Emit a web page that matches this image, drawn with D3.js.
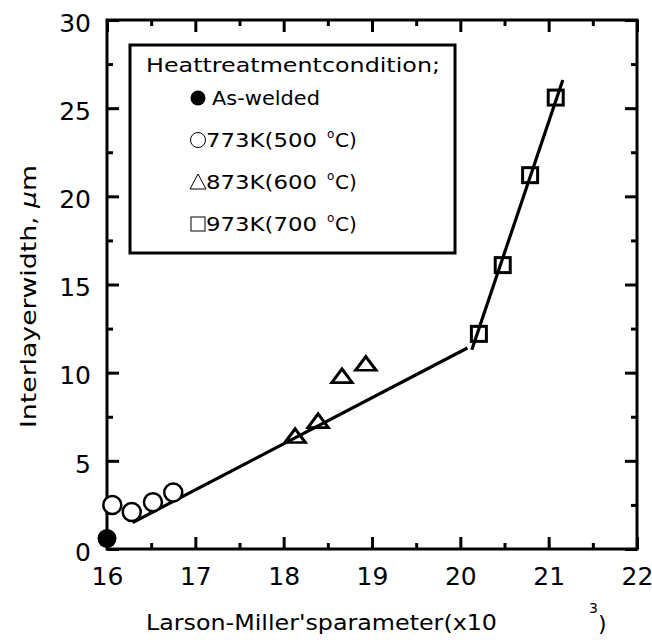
<!DOCTYPE html>
<html>
<head>
<meta charset="utf-8">
<script src="https://cdn.jsdelivr.net/npm/d3@7"></script>
<style>
  body { margin: 0; background: #fff; }
  text { font-family: "DejaVu Sans", sans-serif; fill: #000; }
</style>
</head>
<body>
<svg id="chart" width="652" height="640"></svg>
<script>
// data
var asWeldedX = [16.0], asWeldedY = [0.6];
var k773X = [16.06, 16.28, 16.52, 16.75], k773Y = [2.5, 2.1, 2.65, 3.2];
var k873X = [18.13, 18.39, 18.66, 18.93], k873Y = [6.35, 7.2, 9.75, 10.45];
var k973X = [20.21, 20.48, 20.79, 21.08], k973Y = [12.2, 16.1, 21.2, 25.6];
// two fitted straight lines
var fitLowX = [16.29, 20.08], fitLowY = [1.5, 11.4];
var fitHighX = [20.13, 21.16], fitHighY = [11.3, 26.6];

var xTicks = [16, 17, 18, 19, 20, 21, 22];
var xMinor = [16.5, 17.5, 18.5, 19.5, 20.5, 21.5];
var yTicks = [0, 5, 10, 15, 20, 25, 30];
var yMinor = [2.5, 7.5, 12.5, 17.5, 22.5, 27.5];

var legendTitle = "Heattreatmentcondition;";
var legendItems = [
  {label: "As-welded", sym: "filled"},
  {label: "773K(500", sym: "circle", deg: true},
  {label: "873K(600", sym: "triangle", deg: true},
  {label: "973K(700", sym: "square", deg: true}
];

var svg = d3.select("#chart");
var pL = 107, pR = 637, pT = 20, pB = 549;

var x = d3.scaleLinear().domain([16, 22]).range([pL, pR]);
var y = d3.scaleLinear().domain([0, 30]).range([pB, pT]);

function styleAxis(g) {
  g.select(".domain").remove();
  g.selectAll("line").attr("stroke", "#000").attr("stroke-width", 3);
}

// major ticks with labels
svg.append("g").attr("transform", "translate(0," + pB + ")")
  .call(d3.axisBottom(x).tickValues(xTicks).tickFormat(d3.format("d")).tickSize(-12).tickPadding(18))
  .call(styleAxis)
  .selectAll("text").style("font-size", "25px").attr("fill", "#000");
svg.append("g").attr("transform", "translate(" + pL + ",0)")
  .call(d3.axisLeft(y).tickValues(yTicks).tickFormat(d3.format("d")).tickSize(-12).tickPadding(16))
  .call(styleAxis)
  .selectAll("text").style("font-size", "25px").attr("fill", "#000").attr("dy", "0.45em");
// top and right: ticks only
svg.append("g").attr("transform", "translate(0," + pT + ")")
  .call(d3.axisTop(x).tickValues(xTicks).tickFormat("").tickSize(-12))
  .call(styleAxis);
svg.append("g").attr("transform", "translate(" + pR + ",0)")
  .call(d3.axisRight(y).tickValues(yTicks).tickFormat("").tickSize(-12))
  .call(styleAxis);
// minor ticks
svg.append("g").attr("transform", "translate(0," + pB + ")")
  .call(d3.axisBottom(x).tickValues(xMinor).tickFormat("").tickSize(-6)).call(styleAxis);
svg.append("g").attr("transform", "translate(0," + pT + ")")
  .call(d3.axisTop(x).tickValues(xMinor).tickFormat("").tickSize(-6)).call(styleAxis);
svg.append("g").attr("transform", "translate(" + pL + ",0)")
  .call(d3.axisLeft(y).tickValues(yMinor).tickFormat("").tickSize(-6)).call(styleAxis);
svg.append("g").attr("transform", "translate(" + pR + ",0)")
  .call(d3.axisRight(y).tickValues(yMinor).tickFormat("").tickSize(-6)).call(styleAxis);

// frame
svg.append("rect").attr("x", pL).attr("y", pT)
  .attr("width", pR - pL).attr("height", pB - pT)
  .attr("fill", "none").attr("stroke", "#000").attr("stroke-width", 3);

// fit lines
var line = d3.line().x(function(d) { return x(d[0]); }).y(function(d) { return y(d[1]); });
[[fitLowX, fitLowY], [fitHighX, fitHighY]].forEach(function(f) {
  svg.append("path")
    .attr("d", line(d3.zip(f[0], f[1])))
    .attr("fill", "none").attr("stroke", "#000").attr("stroke-width", 3.2);
});

// markers
var tri = d3.symbol().type(d3.symbolTriangle).size(150);
svg.selectAll(".c773").data(d3.zip(k773X, k773Y)).enter().append("circle")
  .attr("cx", function(d) { return x(d[0]); }).attr("cy", function(d) { return y(d[1]); })
  .attr("r", 9).attr("fill", "#fff").attr("stroke", "#000").attr("stroke-width", 2.5);
svg.selectAll(".t873").data(d3.zip(k873X, k873Y)).enter().append("path")
  .attr("d", tri)
  .attr("transform", function(d) { return "translate(" + x(d[0]) + "," + (y(d[1]) + 1) + ") scale(1.1,0.85)"; })
  .attr("fill", "none").attr("stroke", "#000").attr("stroke-width", 3);
svg.selectAll(".s973").data(d3.zip(k973X, k973Y)).enter().append("rect")
  .attr("x", function(d) { return x(d[0]) - 7.5; }).attr("y", function(d) { return y(d[1]) - 7.5; })
  .attr("width", 15).attr("height", 15)
  .attr("fill", "none").attr("stroke", "#000").attr("stroke-width", 3);
svg.selectAll(".aw").data(d3.zip(asWeldedX, asWeldedY)).enter().append("circle")
  .attr("cx", function(d) { return x(d[0]); }).attr("cy", function(d) { return y(d[1]); })
  .attr("r", 9.5).attr("fill", "#000");

// legend
var lg = svg.append("g");
lg.append("rect").attr("x", 130).attr("y", 45).attr("width", 325).attr("height", 208)
  .attr("fill", "#fff").attr("stroke", "#000").attr("stroke-width", 3);
lg.append("text").attr("x", 146).attr("y", 72).style("font-size", "19px")
  .attr("textLength", 294).attr("lengthAdjust", "spacingAndGlyphs").text(legendTitle);
legendItems.forEach(function(it, i) {
  var by = 105 + i * 42, cy = by - 7;
  if (it.sym === "filled") {
    lg.append("circle").attr("cx", 198).attr("cy", cy).attr("r", 7.5).attr("fill", "#000");
  } else if (it.sym === "circle") {
    lg.append("circle").attr("cx", 198).attr("cy", cy).attr("r", 7.5)
      .attr("fill", "none").attr("stroke", "#000").attr("stroke-width", 1);
  } else if (it.sym === "triangle") {
    lg.append("path").attr("d", "M190," + (cy + 7) + "L206," + (cy + 7) + "L198," + (cy - 8) + "Z")
      .attr("fill", "none").attr("stroke", "#000").attr("stroke-width", 1);
  } else {
    lg.append("rect").attr("x", 191).attr("y", cy - 7).attr("width", 14).attr("height", 14)
      .attr("fill", "none").attr("stroke", "#000").attr("stroke-width", 1);
  }
  var t = lg.append("text").attr("x", it.sym === "filled" ? 212 : 206).attr("y", by)
    .style("font-size", "20px").text(it.label);
  if (it.sym === "filled") t.attr("textLength", 108).attr("lengthAdjust", "spacingAndGlyphs");
  else t.attr("textLength", 111).attr("lengthAdjust", "spacingAndGlyphs");
  if (it.deg) {
    lg.append("text").attr("x", 327).attr("y", by - 9).style("font-size", "12px").text("o");
    lg.append("text").attr("x", 335).attr("y", by).style("font-size", "20px").text("C)");
  }
});

// axis titles
svg.append("text").attr("x", 146).attr("y", 630).style("font-size", "22px")
  .attr("textLength", 351).attr("lengthAdjust", "spacingAndGlyphs")
  .text("Larson-Miller'sparameter(x10");
svg.append("text").attr("x", 589).attr("y", 613).style("font-size", "14px").text("3");
svg.append("text").attr("x", 598).attr("y", 631).style("font-size", "22px").text(")");

svg.append("text")
  .attr("transform", "translate(36,428) rotate(-90)")
  .style("font-size", "22px")
  .attr("textLength", 263).attr("lengthAdjust", "spacingAndGlyphs")
  .html("Interlayerwidth, <tspan font-style=\"italic\">μ</tspan>m");
</script>
</body>
</html>
